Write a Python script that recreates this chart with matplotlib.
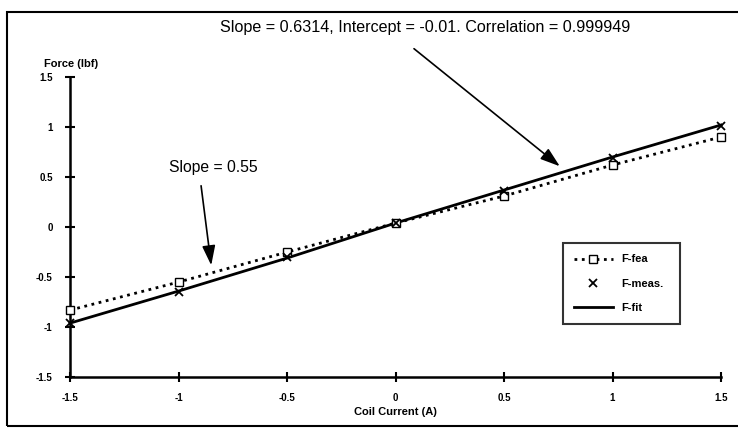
import matplotlib
matplotlib.use("Agg")
import matplotlib.pyplot as plt
from matplotlib.patches import Rectangle

plt.rcParams['font.family'] = ['Liberation Sans', 'DejaVu Sans']

current = [-1.5, -1.0, -0.5, 0.0, 0.5, 1.0, 1.5]
f_fea = [-0.83, -0.55, -0.25, 0.04, 0.31, 0.62, 0.90]
f_meas = [-0.96, -0.65, -0.30, 0.04, 0.36, 0.69, 1.01]
f_fit = [-0.96, -0.64, -0.31, 0.04, 0.37, 0.70, 1.02]
xticks = [-1.5, -1, -0.5, 0, 0.5, 1, 1.5]
yticks = [-1.5, -1, -0.5, 0, 0.5, 1, 1.5]
xtick_labels = ['-1.5', '-1', '-0.5', '0', '0.5', '1', '1.5']
ytick_labels = ['-1.5', '-1', '-0.5', '0', '0.5', '1', '1.5']

fig = plt.figure(figsize=(7.38, 4.30), dpi=100)
ax = fig.add_axes([0.095, 0.123, 0.882, 0.698])

ax.plot(current, f_fea, linestyle=':', color='black', linewidth=2.0,
        marker='s', markersize=6, markerfacecolor='white', markeredgecolor='black',
        markeredgewidth=1.0, label='F-fea', clip_on=False, zorder=3)
ax.plot(current, f_meas, linestyle='none', color='black', marker='x',
        markersize=6, markeredgewidth=1.3, label='F-meas.', clip_on=False, zorder=4)
ax.plot(current, f_fit, linestyle='-', color='black', linewidth=2.0,
        label='F-fit', clip_on=False, zorder=2)

ax.set_xlim(-1.5, 1.5)
ax.set_ylim(-1.5, 1.5)
ax.set_xticks(xticks)
ax.set_xticklabels(xtick_labels)
ax.set_yticks(yticks)
ax.set_yticklabels(ytick_labels)
for s in ['top', 'right']:
    ax.spines[s].set_visible(False)
for s in ['left', 'bottom']:
    ax.spines[s].set_linewidth(1.8)
ax.tick_params(direction='inout', length=7, width=1.5, labelsize=7)
ax.tick_params(axis='x', pad=8)
ax.tick_params(axis='y', pad=9)
for lab in ax.get_xticklabels() + ax.get_yticklabels():
    lab.set_fontweight('bold')

ax.text(-1.62, 1.58, 'Force (lbf)', fontsize=8, fontweight='bold', ha='left', va='bottom')
ax.set_xlabel('Coil Current (A)', fontsize=8, fontweight='bold', labelpad=3)

ax.annotate('', xy=(0.767, 0.59), xytext=(0.075, 1.80),
            arrowprops=dict(arrowstyle='-|>,head_width=0.4,head_length=1.2',
                            color='black', lw=1.2), annotation_clip=False)
ax.text(0.138, 1.99, 'Slope = 0.6314, Intercept = -0.01. Correlation = 0.999949',
        fontsize=11.6, ha='center', va='center')

ax.annotate('', xy=(-0.848, -0.41), xytext=(-0.898, 0.44),
            arrowprops=dict(arrowstyle='-|>,head_width=0.4,head_length=1.2',
                            color='black', lw=1.2), annotation_clip=False)
ax.text(-0.839, 0.60, 'Slope = 0.55', fontsize=11.3, ha='center', va='center')

leg = ax.legend(loc='lower left', bbox_to_anchor=(0.748, 0.157, 0.197, 0.323),
                mode='expand', fancybox=False, edgecolor='black',
                handlelength=3.5, labelspacing=1.3, borderpad=1.0,
                prop={'weight': 'bold', 'size': 8})
leg.get_frame().set_linewidth(1.5)

fig.add_artist(Rectangle((0.01, 0.01), 0.995, 0.962, transform=fig.transFigure,
                         fill=False, edgecolor='black', linewidth=1.5))

fig.savefig('out.png', dpi=100)
